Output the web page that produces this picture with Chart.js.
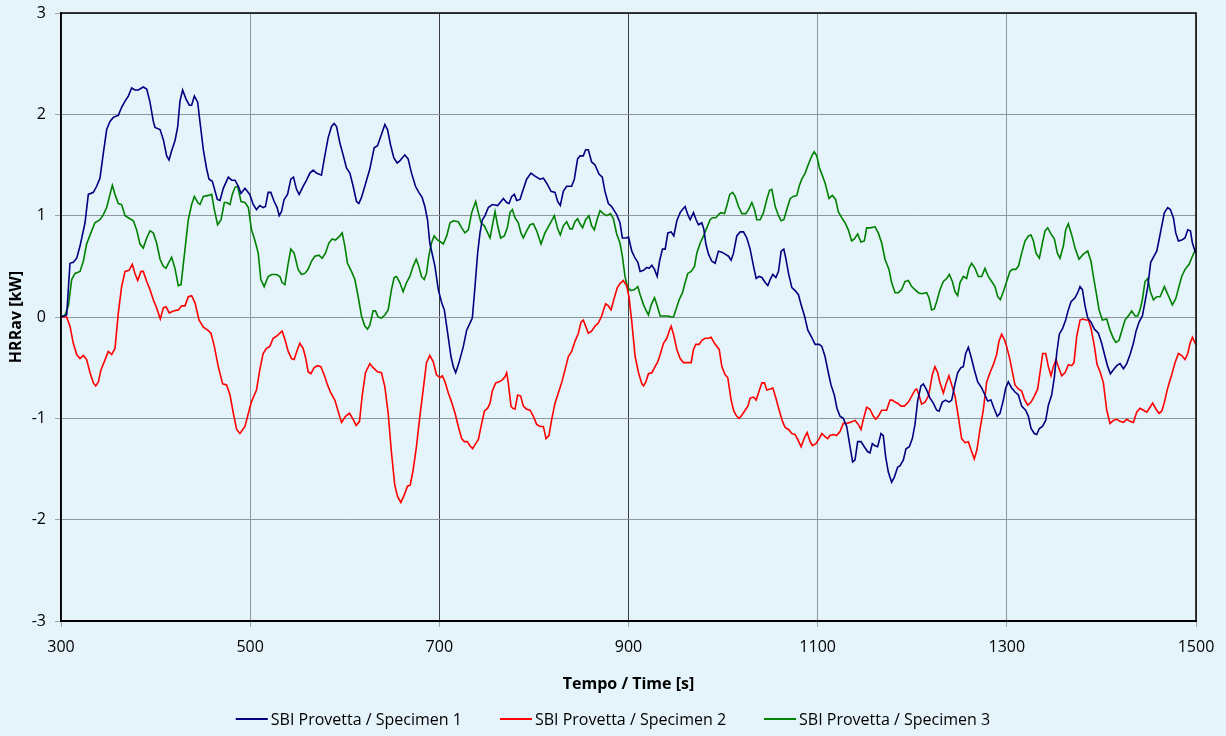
<!DOCTYPE html>
<html>
<head>
<meta charset="utf-8">
<script src="https://cdn.jsdelivr.net/npm/chart.js@4.4.1/dist/chart.umd.min.js"></script>
<style>
  html, body { margin: 0; padding: 0; background: #e4f4fa; }
  #wrap { width: 1226px; height: 736px; }
</style>
</head>
<body>
<div id="wrap"><canvas id="chart" width="1226" height="736"></canvas></div>
<script>
const seriesNames = [
  "SBI Provetta / Specimen 1",
  "SBI Provetta / Specimen 2",
  "SBI Provetta / Specimen 3"
];
const seriesColors = ["#000080", "#ff0000", "#008000"];

const xTicks = [300, 500, 700, 900, 1100, 1300, 1500];
const yTicks = [-3, -2, -1, 0, 1, 2, 3];

// Specimen 1 (time s / HRRav kW)
const s1Time = [300,306,309.5,313,316.6,320.1,325.4,328.9,334.2,337.7,341.2,344.8,348.3,351.8,355.3,360.6,364.1,367.7,371.2,374.7,378.2,381.8,387,390.6,394.1,397.6,399.4,404.7,408.2,411.7,414.2,417,420.5,423.3,425.8,428.6,432.2,435.7,438.1,441,444.5,447,450.5,454,456.5,460,465.3,468.1,471.6,476.9,480.4,484,487.5,490.3,494.5,
  499.6,503.2,506.7,510.2,513.7,516.2,519,521.8,525.4,528.5,530.7,533.1,535.9,539.5,543,545.8,549,551.8,556,559.6,563.1,566.6,570.1,575.4,578.9,582.5,586,588.8,591.3,594.8,598.3,601.8,605.4,608.9,612.4,614.9,617.7,621.2,626.5,631.1,634.6,638.8,642.4,645.2,648.4,651.9,655.4,658.2,660.7,663.5,667,670.6,674.8,678.3,681.8,684.7,687.5,689.9,
  695.4,698.9,702.5,705.3,708.8,712.3,714.8,717.3,720.8,725.4,728.9,732.4,734.9,737.7,740.5,743,745.5,748.3,751.8,756,761.7,765.2,767.7,771.2,773.7,776.5,779.3,781.8,785.3,787.7,792.3,796.9,801.1,806.4,810,813.5,818.1,822.3,825.1,827.9,831.1,834.6,839.9,842.7,846.2,848.7,852.2,854.7,857.5,861,864.6,868.8,872.3,875.1,878.7,882.2,887.5,891,893.5,898,
  900,903.5,907,909.9,912.3,915.9,919.4,921.8,924.7,927.5,930.3,932.8,935.9,938.8,941.6,945.1,947.9,951.1,954.6,957.1,959.9,962.7,965.2,968.7,971.5,974,977.5,979.6,981.8,984.6,988.1,991.6,995.1,998.7,1002.2,1005.7,1008.5,1011,1014.5,1018.1,1021.6,1025.1,1028.6,1032.2,1035,1038.1,1041,1044.5,1047.3,1049.8,1052.6,1055.8,1058.6,1061.4,1064.2,1066.3,1069.2,1072.7,1076.2,1079.7,1082.5,1086.1,1089.6,1093.1,1097.3,1101.6,1104.4,
  1107.8,1111.3,1114.1,1117.6,1120.4,1123.6,1127.1,1130.7,1134.2,1137,1139.5,1142.3,1145.8,1149.3,1152.9,1155.3,1157.8,1160.6,1163.4,1167,1169.4,1171.9,1174.7,1178.2,1181.1,1184.6,1187,1190.6,1193.4,1196.9,1200.1,1202.9,1205.7,1209.2,1211.7,1215.2,1218.8,1222.3,1225.8,1228.3,1231.8,1235.3,1238.8,1241.7,1245.2,1248,1251.5,1254,1256.5,1259.3,1262.1,1265.6,1269.2,1273.4,1276.9,1279.7,1283.2,1286.4,1289.9,1292.8,1296.3,1298.8,1301.6,1305.1,
  1308.7,1312.2,1315.7,1319.9,1322.8,1325.6,1329.1,1331.6,1334.4,1337.6,1341.1,1343.9,1347.4,1350.3,1352.7,1355.5,1359.1,1362.2,1365,1367.9,1372.1,1374.9,1377.4,1379.9,1382.7,1385.5,1389,1392.6,1396.8,1400.3,1403.8,1406.7,1409.5,1412.7,1416.2,1419.7,1423.3,1426.8,1430.3,1433.8,1436.6,1439.8,1443.3,1446.1,1449,1452.1,1455.6,1458.5,1460.9,1463.8,1466.6,1470.1,1472.9,1476.1,1478.6,1481.4,1484.9,1488.4,1491.3,1494.1,1496.2,1499.7];
const s1Hrr = [0,0.02,0.53,0.54,0.58,0.70,0.93,1.21,1.23,1.29,1.37,1.62,1.85,1.93,1.97,1.99,2.07,2.13,2.18,2.26,2.24,2.24,2.27,2.25,2.12,1.93,1.87,1.85,1.75,1.59,1.55,1.64,1.74,1.87,2.13,2.24,2.15,2.09,2.09,2.18,2.12,1.92,1.65,1.46,1.36,1.34,1.16,1.15,1.27,1.38,1.35,1.35,1.29,1.22,1.27,
  1.21,1.11,1.06,1.10,1.08,1.09,1.23,1.23,1.14,1.08,1.00,1.04,1.16,1.21,1.36,1.38,1.26,1.21,1.29,1.35,1.42,1.45,1.42,1.40,1.59,1.77,1.88,1.91,1.88,1.72,1.60,1.47,1.42,1.29,1.14,1.12,1.18,1.29,1.46,1.67,1.69,1.80,1.90,1.85,1.70,1.57,1.52,1.54,1.57,1.60,1.56,1.42,1.29,1.23,1.18,1.09,0.96,0.73,
  0.50,0.27,0.14,0.07,-0.16,-0.39,-0.49,-0.55,-0.45,-0.29,-0.13,-0.06,-0.01,0.30,0.63,0.83,0.96,1.00,1.08,1.11,1.10,1.14,1.17,1.13,1.12,1.19,1.21,1.15,1.16,1.23,1.36,1.42,1.39,1.36,1.37,1.32,1.24,1.23,1.14,1.10,1.24,1.29,1.29,1.36,1.56,1.59,1.59,1.65,1.65,1.53,1.50,1.41,1.38,1.24,1.12,1.09,1.01,0.93,0.78,0.78,
  0.79,0.65,0.58,0.54,0.45,0.46,0.49,0.48,0.51,0.47,0.40,0.55,0.67,0.67,0.83,0.84,0.80,0.95,1.03,1.06,1.09,1.01,0.96,1.03,0.96,0.91,0.93,0.87,0.72,0.62,0.55,0.53,0.65,0.64,0.62,0.60,0.56,0.63,0.80,0.84,0.84,0.78,0.67,0.50,0.38,0.40,0.39,0.34,0.31,0.37,0.42,0.39,0.45,0.65,0.67,0.58,0.43,0.29,0.26,0.22,0.12,0.01,-0.13,-0.19,-0.27,-0.27,-0.29,
  -0.39,-0.55,-0.67,-0.77,-0.90,-0.98,-1.00,-1.08,-1.28,-1.43,-1.41,-1.23,-1.23,-1.28,-1.33,-1.34,-1.25,-1.27,-1.28,-1.15,-1.17,-1.38,-1.53,-1.63,-1.58,-1.48,-1.47,-1.41,-1.30,-1.28,-1.20,-1.06,-0.83,-0.68,-0.66,-0.72,-0.80,-0.85,-0.92,-0.93,-0.84,-0.82,-0.84,-0.82,-0.66,-0.55,-0.50,-0.49,-0.36,-0.30,-0.39,-0.52,-0.64,-0.70,-0.77,-0.83,-0.82,-0.90,-0.98,-0.95,-0.82,-0.70,-0.64,-0.70,
  -0.74,-0.77,-0.88,-0.92,-0.98,-1.10,-1.15,-1.16,-1.10,-1.08,-1.02,-0.87,-0.77,-0.59,-0.36,-0.17,-0.11,-0.03,0.07,0.15,0.19,0.24,0.30,0.27,0.11,-0.01,-0.05,-0.12,-0.16,-0.26,-0.39,-0.49,-0.56,-0.52,-0.48,-0.46,-0.51,-0.46,-0.37,-0.26,-0.14,-0.05,0.01,0.15,0.30,0.54,0.60,0.65,0.76,0.90,1.03,1.08,1.06,0.98,0.83,0.75,0.76,0.78,0.86,0.85,0.73,0.63];

// Specimen 2
const s2Time = [300,306,309.5,313,316.6,320.1,323.6,327.1,330.7,334.2,336.7,339.5,342.3,345.8,350,353.6,357.1,360.6,364.1,367.7,371.9,375.4,378.2,381.1,384.6,387,390.6,394.1,397.6,401.1,405,408.2,411,414.5,418.8,424,427.6,431.1,434.6,438.1,441.7,445.9,450.5,455.1,458.6,462.1,466.3,470.9,475.1,478.7,482.2,485.7,489.2,494.5,498.1,501.6,
  506.7,510.2,513.7,517.3,520.8,524.3,527.8,531.4,533.8,536.7,540.2,543.7,546.5,550,552.5,556,558.8,561.3,564.1,567.7,571.2,574.7,578.2,581.8,585.3,589.5,593,596.6,600.8,605,608.9,612.1,615.6,618.4,621.9,626.5,630,634.6,638.8,642.4,645.9,649.4,652.9,655.8,659.3,662.8,666.3,669.2,672.3,675.8,679.4,682.9,686.4,689.9,693.5,697,
  700.7,703.2,706,709.5,713,716.6,720.1,723.6,726.4,729.6,732.4,735.2,738.4,741.2,744.8,747.6,751.1,753.6,756,759.6,763.1,766.6,769.4,771.2,772.9,775.8,777.5,780,782.8,786,788.8,792.3,795.9,799.4,802.9,806.4,810,812.8,815.9,818.8,822.3,825.8,829.3,832.9,836.4,839.9,843.4,847,849.8,852.2,855.1,857.5,861,864.6,868.1,871.6,875.8,878.7,881.5,884.7,888.2,891,894.5,898,900.5,903.3,
  907,910.6,914.1,915.9,918.3,921.1,924.7,927.5,931,933.5,937,940.5,943,945.1,947.6,951.1,954.6,958.1,961.7,966.3,968.7,971.2,974.7,977.5,981.1,984.6,987.4,990.9,995.9,998.7,1002.2,1005,1008.5,1011.4,1014.5,1017,1019.8,1023.3,1026.2,1028.6,1032.2,1035,1038.1,1041,1043.8,1046.2,1049.8,1052.6,1055.8,1059.3,1062.8,1065.6,1069.2,1072.7,1076.2,1079,1082.5,1086.1,1088.9,1092.1,1094.5,1098.1,1101.6,1104.4,
  1107.8,1110.6,1113,1116.6,1120.1,1123.6,1127.1,1130.7,1134.2,1139.5,1143,1145.8,1148.3,1151.8,1155.3,1158.9,1161.3,1164.1,1167.7,1172.9,1176.5,1178.9,1181.8,1184.6,1188.1,1191.6,1195.9,1199.4,1202.9,1204.7,1207.1,1209.9,1213.5,1217,1218.8,1221.2,1224,1226.9,1229.3,1232.9,1235.7,1238.8,1241.7,1245.2,1248.7,1252.2,1255.8,1259.3,1262.1,1265.6,1268.4,1271.6,1275.1,1278.7,1282.2,1285.7,1289.2,1291.7,1294.5,1297.3,1299.8,1303.3,1305.8,1308.6,
  1312.2,1315.7,1318.5,1322.1,1325.6,1329.1,1332.6,1335.1,1337.9,1341.1,1343.9,1346.7,1349.2,1352,1354.5,1358,1361.5,1365.1,1368.6,1371,1373.9,1377.4,1380.2,1383.7,1386.2,1389,1392.6,1395.4,1398.6,1402.1,1405.6,1409.1,1412.6,1416.2,1419.7,1423.2,1426.8,1430.3,1433.8,1437.3,1440.8,1444.4,1447.9,1450.7,1454.2,1457.8,1460.9,1463.8,1466.6,1470.1,1474.3,1477.9,1481.4,1484.9,1488.4,1491.3,1493.7,1496.2,1499.7];
const s2Hrr = [0,0,-0.09,-0.26,-0.37,-0.41,-0.38,-0.42,-0.55,-0.65,-0.68,-0.64,-0.52,-0.44,-0.34,-0.37,-0.31,0.04,0.30,0.45,0.46,0.52,0.43,0.36,0.45,0.45,0.35,0.27,0.17,0.09,-0.02,0.09,0.10,0.04,0.06,0.07,0.11,0.11,0.20,0.21,0.14,-0.03,-0.10,-0.13,-0.16,-0.29,-0.49,-0.66,-0.67,-0.77,-0.95,-1.11,-1.15,-1.08,-0.95,-0.83,
  -0.72,-0.52,-0.36,-0.31,-0.29,-0.21,-0.19,-0.16,-0.14,-0.22,-0.34,-0.41,-0.42,-0.32,-0.26,-0.31,-0.41,-0.54,-0.56,-0.50,-0.48,-0.49,-0.57,-0.67,-0.75,-0.82,-0.93,-1.04,-0.98,-0.95,-1.01,-1.07,-1.03,-0.78,-0.55,-0.46,-0.50,-0.54,-0.55,-0.69,-0.95,-1.34,-1.66,-1.77,-1.83,-1.76,-1.67,-1.66,-1.51,-1.28,-0.98,-0.72,-0.45,-0.38,-0.44,-0.57,
  -0.60,-0.58,-0.64,-0.75,-0.84,-0.95,-1.08,-1.20,-1.23,-1.23,-1.27,-1.30,-1.25,-1.21,-1.05,-0.93,-0.90,-0.85,-0.73,-0.65,-0.64,-0.62,-0.59,-0.55,-0.65,-0.88,-0.90,-0.91,-0.77,-0.78,-0.88,-0.91,-0.92,-0.98,-1.06,-1.08,-1.08,-1.20,-1.17,-1.01,-0.85,-0.75,-0.65,-0.52,-0.39,-0.34,-0.24,-0.16,-0.05,-0.03,-0.10,-0.16,-0.14,-0.09,-0.06,0.01,0.13,0.11,0.07,0.18,0.29,0.33,0.36,0.31,0.20,-0.03,
  -0.39,-0.55,-0.66,-0.68,-0.64,-0.56,-0.55,-0.50,-0.44,-0.37,-0.26,-0.21,-0.14,-0.09,-0.17,-0.32,-0.41,-0.45,-0.45,-0.45,-0.32,-0.27,-0.27,-0.23,-0.21,-0.21,-0.20,-0.26,-0.32,-0.49,-0.57,-0.60,-0.82,-0.93,-0.98,-1.00,-0.97,-0.92,-0.88,-0.80,-0.79,-0.82,-0.73,-0.65,-0.65,-0.72,-0.71,-0.70,-0.80,-0.92,-1.03,-1.09,-1.11,-1.15,-1.16,-1.21,-1.28,-1.19,-1.14,-1.23,-1.27,-1.25,-1.20,-1.15,
  -1.18,-1.20,-1.17,-1.16,-1.17,-1.13,-1.05,-1.05,-1.04,-1.02,-1.06,-1.11,-1.01,-0.89,-0.91,-0.98,-1.01,-0.98,-0.92,-0.92,-0.82,-0.82,-0.84,-0.85,-0.88,-0.88,-0.84,-0.78,-0.72,-0.71,-0.77,-0.86,-0.84,-0.78,-0.70,-0.57,-0.49,-0.55,-0.65,-0.75,-0.66,-0.58,-0.67,-0.78,-0.98,-1.20,-1.24,-1.23,-1.31,-1.40,-1.31,-1.11,-0.92,-0.64,-0.55,-0.47,-0.37,-0.24,-0.17,-0.22,-0.29,-0.42,-0.54,-0.67,
  -0.71,-0.73,-0.81,-0.87,-0.84,-0.78,-0.71,-0.55,-0.36,-0.36,-0.49,-0.58,-0.49,-0.42,-0.49,-0.58,-0.55,-0.47,-0.48,-0.45,-0.19,-0.03,-0.02,-0.03,-0.03,-0.11,-0.29,-0.47,-0.54,-0.65,-0.92,-1.05,-1.02,-1.01,-1.03,-1.04,-1.01,-1.03,-1.04,-0.94,-0.90,-0.92,-0.94,-0.90,-0.85,-0.91,-0.95,-0.93,-0.84,-0.70,-0.57,-0.45,-0.36,-0.38,-0.42,-0.36,-0.26,-0.20,-0.27];

// Specimen 3
const s3Time = [300,304.2,307.8,311.3,314.8,320.1,323.6,327.1,332.4,335.9,341.2,344.8,348.3,351.8,354.3,357.1,360.6,364.1,367.7,371.2,376.5,380,383.5,387,390.6,394.1,397.6,401.1,404.7,408.2,411,413.5,417,420.5,424,426.9,431.1,434.6,438.1,441,444.5,447,450.5,455.8,459.3,462.1,465.6,469.2,472.7,475.1,478.7,481.1,484,486.8,490.3,494.5,498.1,
  501.4,504.9,508.5,511.3,514.8,519,522.6,527.8,531.4,533.8,536.7,540.2,543,546.5,550.7,554.3,557.8,561.3,564.8,568.4,572.6,576.1,579.6,583.2,586.7,590.2,594.8,597.3,600.1,602.9,607.1,610.7,614.2,617.7,621.2,624,626.5,630,632.5,635.3,638.8,642.4,645.9,649.4,652.2,654.7,658.2,661.7,665.3,668.8,672.3,675.5,678.3,681.1,684,686.4,688.9,691.7,694.5,698,701.6,
  704.2,707.8,711.3,714.8,720.1,723.6,727.1,730.7,734.2,738.4,741.2,744.1,747.6,751.1,753.6,756,758.9,761.7,764.8,768.7,771.9,774.7,777.2,780,783.5,786.3,788.8,792.3,795.9,799.4,802.9,807.5,811.7,815.2,818.8,821.6,825.1,827.9,831.1,834.6,838.1,840.6,843.4,846.2,848.7,851.5,854.7,858.2,861,863.9,866.7,869.9,873.4,876.9,881.1,884,887.5,891,893.5,896.3,899.1,902.6,
  906.3,909.9,912.3,915.9,918.3,921.1,924,927.5,930,933.5,937,941.6,945.1,947.6,950,953.6,957.1,959.9,962.7,966.3,969.8,972.2,975.8,979.3,982.8,986.3,988.8,992.3,995.1,997.6,1001.5,1004.3,1007.1,1010,1012.8,1016.3,1019.8,1024,1026.9,1030.4,1033.2,1035.7,1039.2,1042.7,1046.2,1049.1,1051.5,1055.1,1058.6,1061.4,1064.2,1067.4,1070.9,1074.4,1078,1080.4,1083.2,1086.8,1090.3,1093.8,1096.3,1099.1,1101.9,1104.4,1107.9,
  1112,1115.5,1119,1121.8,1125.4,1128.9,1132.4,1135.9,1138.8,1142.3,1145.8,1149.3,1151.8,1155.3,1160.6,1164.1,1167.7,1171.2,1175.4,1178.2,1181.8,1185.3,1188.8,1192.3,1195.9,1199.4,1202.9,1206.4,1209.9,1215.2,1217.7,1220.5,1223.3,1225.8,1229.3,1232.9,1236.4,1239.2,1242.4,1245.2,1248,1250.5,1254,1257.5,1260,1262.8,1266.4,1269.9,1273.4,1276.9,1280.4,1284,1287.5,1290.3,1293.1,1296.3,1299.8,1303.3,1305.8,
  1309.4,1312.2,1315.7,1319.2,1322.8,1325.6,1328.1,1330.9,1334.4,1337.6,1340.4,1343.2,1346.7,1350.3,1353.4,1356.2,1359.8,1362.2,1365,1368.6,1372.1,1376.3,1380.9,1385.5,1389,1391.5,1394.3,1397.5,1401,1405.6,1409.1,1412.6,1415.4,1418.6,1421.4,1424.9,1429.2,1432,1435.5,1438.3,1440.8,1443.3,1446.1,1449,1451.8,1455,1458.5,1462,1466.6,1470.8,1475,1478.6,1481.4,1484.9,1488.4,1492.7,1496.2,1499.7];
const s3Hrr = [0,0.02,0.11,0.37,0.43,0.45,0.55,0.72,0.85,0.93,0.96,1.01,1.08,1.21,1.30,1.21,1.12,1.11,1.00,0.98,0.95,0.86,0.72,0.68,0.78,0.85,0.83,0.73,0.57,0.50,0.48,0.53,0.59,0.48,0.31,0.32,0.67,0.96,1.11,1.19,1.13,1.11,1.19,1.20,1.21,1.06,0.91,0.96,1.13,1.13,1.11,1.21,1.28,1.29,1.14,1.13,1.08,
  0.86,0.76,0.63,0.37,0.30,0.40,0.42,0.42,0.40,0.34,0.32,0.53,0.67,0.63,0.47,0.42,0.43,0.47,0.55,0.60,0.61,0.58,0.63,0.73,0.77,0.76,0.80,0.83,0.70,0.53,0.45,0.37,0.20,0.01,-0.09,-0.12,-0.08,0.06,0.06,0.00,-0.01,0.02,0.07,0.27,0.39,0.40,0.34,0.25,0.34,0.40,0.50,0.57,0.50,0.40,0.37,0.43,0.60,0.73,0.80,0.76,0.74,
  0.72,0.80,0.93,0.95,0.94,0.88,0.83,0.86,1.03,1.14,1.03,0.93,0.90,0.83,0.78,0.90,1.04,0.90,0.78,0.80,0.88,1.03,1.06,0.98,0.93,0.83,0.78,0.85,0.91,0.92,0.85,0.72,0.83,0.89,0.95,1.00,0.87,0.81,0.90,0.94,0.87,0.87,0.94,0.97,0.92,0.88,0.96,1.00,0.90,0.86,0.96,1.05,1.02,1.00,1.02,0.97,0.82,0.73,0.60,0.40,0.29,0.26,
  0.27,0.30,0.22,0.12,0.07,0.02,0.12,0.19,0.12,0.01,0.01,0.01,0.00,0.00,0.07,0.17,0.24,0.34,0.43,0.45,0.50,0.63,0.73,0.80,0.88,0.96,0.98,0.98,1.01,1.03,1.02,1.11,1.21,1.23,1.19,1.09,1.02,1.02,1.06,1.13,1.06,0.96,0.96,1.03,1.16,1.25,1.26,1.09,1.00,0.95,0.96,1.06,1.17,1.19,1.20,1.29,1.36,1.42,1.51,1.59,1.63,1.59,1.47,1.41,1.32,
  1.17,1.20,1.16,1.04,0.98,0.93,0.86,0.75,0.77,0.82,0.74,0.75,0.88,0.88,0.89,0.83,0.73,0.57,0.47,0.34,0.24,0.24,0.27,0.35,0.36,0.30,0.27,0.24,0.23,0.24,0.19,0.07,0.08,0.15,0.27,0.35,0.38,0.42,0.35,0.25,0.21,0.34,0.40,0.38,0.48,0.53,0.48,0.40,0.40,0.48,0.40,0.35,0.30,0.20,0.17,0.25,0.35,0.45,0.47,
  0.47,0.50,0.63,0.75,0.80,0.81,0.75,0.63,0.58,0.73,0.85,0.88,0.82,0.77,0.63,0.58,0.70,0.86,0.92,0.81,0.68,0.57,0.62,0.65,0.55,0.40,0.25,0.07,-0.03,-0.02,-0.13,-0.21,-0.25,-0.23,-0.14,-0.03,0.02,0.06,0.01,0.01,0.07,0.17,0.35,0.38,0.25,0.17,0.20,0.20,0.30,0.21,0.12,0.18,0.28,0.40,0.47,0.52,0.60,0.67];

const toPoints = (times, values) => times.map((t, i) => ({ x: t, y: values[i] }));
const seriesData = [toPoints(s1Time, s1Hrr), toPoints(s2Time, s2Hrr), toPoints(s3Time, s3Hrr)];

Chart.defaults.font.family = '"Open Sans", "DejaVu Sans", sans-serif';
Chart.defaults.color = "#000000";

const pageBackground = {
  id: "pageBackground",
  beforeDraw(chart) {
    const { ctx, width, height } = chart;
    ctx.save();
    ctx.fillStyle = "#e4f4fa";
    ctx.fillRect(0, 0, width, height);
    ctx.restore();
  }
};

const plotFrame = {
  id: "plotFrame",
  afterDatasetsDraw(chart) {
    const { ctx, chartArea: a } = chart;
    ctx.save();
    ctx.strokeStyle = "#000000";
    ctx.lineWidth = 1.5;
    ctx.strokeRect(a.left, a.top, a.right - a.left, a.bottom - a.top);
    ctx.lineWidth = 2;
    ctx.beginPath();
    ctx.moveTo(a.left, a.bottom);
    ctx.lineTo(a.right, a.bottom);
    ctx.stroke();
    ctx.restore();
  }
};

// legend row below the axis title, spaced like the original
const lineLegend = {
  id: "lineLegend",
  afterDraw(chart) {
    const { ctx, width } = chart;
    const sample = 32, gap = 3, spacing = 38, y = 719;
    ctx.save();
    ctx.font = '16px "Open Sans", "DejaVu Sans", sans-serif';
    ctx.textBaseline = "middle";
    const items = chart.data.datasets.map((ds) => ({
      text: ds.label,
      color: ds.borderColor,
      w: sample + gap + ctx.measureText(ds.label).width
    }));
    const total = items.reduce((s, it) => s + it.w, 0) + spacing * (items.length - 1);
    let x = (width - total) / 2;
    items.forEach((it) => {
      ctx.strokeStyle = it.color;
      ctx.lineWidth = 2;
      ctx.beginPath();
      ctx.moveTo(x, y);
      ctx.lineTo(x + sample, y);
      ctx.stroke();
      ctx.fillStyle = "#000000";
      ctx.fillText(it.text, x + sample + gap, y + 1);
      x += it.w + spacing;
    });
    ctx.restore();
  }
};

new Chart(document.getElementById("chart"), {
  type: "line",
  data: {
    datasets: seriesNames.map((name, i) => ({
      label: name,
      data: seriesData[i],
      borderColor: seriesColors[i],
      backgroundColor: seriesColors[i],
      borderWidth: 1.6,
      pointRadius: 0,
      tension: 0,
      fill: false
    }))
  },
  options: {
    responsive: false,
    animation: false,
    parsing: false,
    layout: { padding: { top: 13, right: 30, bottom: 38, left: 0 } },
    plugins: {
      legend: { display: false },
      tooltip: { enabled: false }
    },
    scales: {
      x: {
        type: "linear",
        min: xTicks[0],
        max: xTicks[xTicks.length - 1],
        afterBuildTicks(scale) {
          scale.ticks = xTicks.map((v) => ({ value: v }));
        },
        afterFit(scale) { scale.height = 77; },
        ticks: { padding: 11, font: { size: 16 }, color: "#000000", callback: (v) => String(v) },
        grid: {
          color: (ctx) => (ctx.tick && (ctx.tick.value === 700 || ctx.tick.value === 900)) ? "#3c3c3c" : "#8c979d",
          lineWidth: 1,
          tickLength: 6,
          tickColor: "#9aa5ab"
        },
        border: { display: true, color: "#000000", width: 2 },
        title: {
          display: true,
          text: "Tempo / Time [s]",
          font: { size: 16, weight: "bold" },
          color: "#000000",
          padding: { top: 0, bottom: 4 }
        }
      },
      y: {
        min: yTicks[0],
        max: yTicks[yTicks.length - 1],
        afterBuildTicks(scale) {
          scale.ticks = yTicks.map((v) => ({ value: v }));
        },
        afterFit(scale) {
          scale.width = 61;
          scale.paddingTop = 0;
          scale.paddingBottom = 0;
        },
        ticks: { padding: 9, font: { size: 16 }, color: "#000000", callback: (v) => String(v) },
        grid: {
          color: "#8c979d",
          lineWidth: 1,
          tickLength: 6,
          tickColor: "#9aa5ab"
        },
        border: { display: true, color: "#000000", width: 1.5 },
        title: {
          display: true,
          text: "HRRav [kW]",
          font: { size: 16, weight: "bold" },
          color: "#000000",
          padding: { top: 7, bottom: 0 }
        }
      }
    }
  },
  plugins: [pageBackground, plotFrame, lineLegend]
});
</script>
</body>
</html>
